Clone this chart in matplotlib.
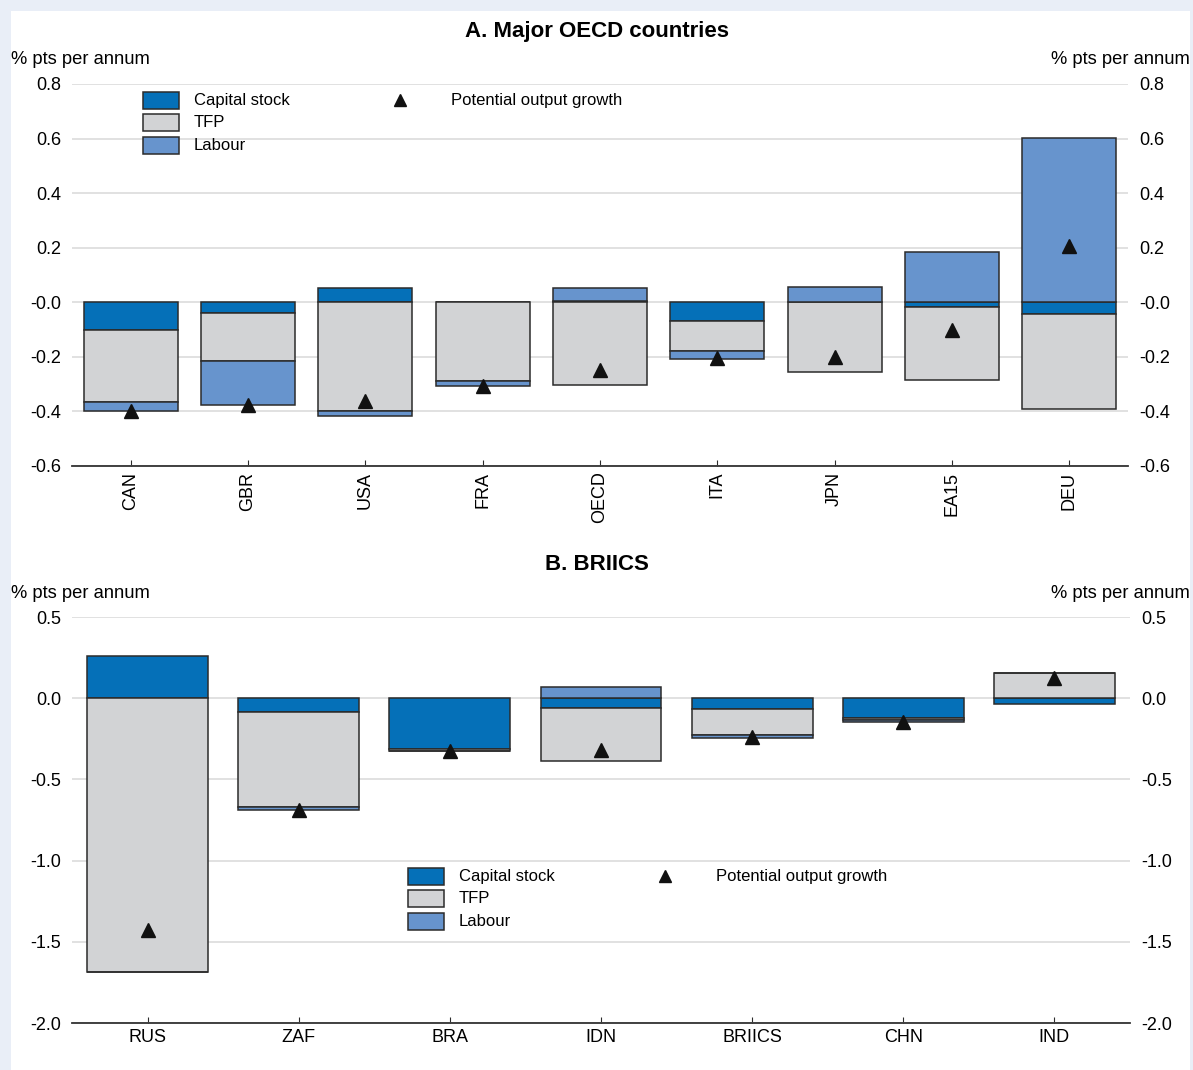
import matplotlib
matplotlib.use("Agg")
import matplotlib.pyplot as plt
import numpy as np
from matplotlib.patches import Rectangle
from matplotlib.lines import Line2D

plt.rcParams['font.family'] = ['Liberation Sans', 'DejaVu Sans']
plt.rcParams['font.size'] = 13

# panel A data
countries_a = ['CAN', 'GBR', 'USA', 'FRA', 'OECD', 'ITA', 'JPN', 'EA15', 'DEU']
capital_a = [-0.100, -0.040, 0.051, 0.0, 0.004, -0.067, 0.0, -0.018, -0.043]
tfp_a = [-0.264, -0.176, -0.397, -0.287, -0.303, -0.111, -0.256, -0.267, -0.349]
labour_a = [-0.035, -0.160, -0.021, -0.021, 0.050, -0.031, 0.055, 0.183, 0.602]
potential_a = [-0.400, -0.376, -0.362, -0.307, -0.248, -0.204, -0.200, -0.100, 0.206]
yticks_a = [-0.6, -0.4, -0.2, 0.0, 0.2, 0.4, 0.6, 0.8]
ylabels_a = ['-0.6', '-0.4', '-0.2', '-0.0', '0.2', '0.4', '0.6', '0.8']

# panel B data
countries_b = ['RUS', 'ZAF', 'BRA', 'IDN', 'BRIICS', 'CHN', 'IND']
capital_b = [0.262, -0.085, -0.311, -0.060, -0.065, -0.120, -0.038]
tfp_b = [-1.686, -0.587, -0.012, -0.328, -0.164, -0.012, 0.157]
labour_b = [-0.003, -0.017, -0.004, 0.072, -0.017, -0.014, 0.0]
potential_b = [-1.427, -0.688, -0.325, -0.319, -0.240, -0.145, 0.124]
yticks_b = [-2.0, -1.5, -1.0, -0.5, 0.0, 0.5]
ylabels_b = ['-2.0', '-1.5', '-1.0', '-0.5', '0.0', '0.5']

series_names = ['Capital stock', 'TFP', 'Labour']
colors = ['#0570b8', '#d2d3d5', '#6794cd']
edge = '#2b2b2b'

W, H = 1193, 1070
fig = plt.figure(figsize=(W / 100, H / 100), dpi=100)
fig.patch.set_facecolor('#e9eef7')
fig.patches.append(Rectangle((11 / W, 0), (1190 - 11) / W, 1 - 11 / H,
                             transform=fig.transFigure, facecolor='white',
                             edgecolor='none', zorder=-5))


def px(x, y):
    return x / W, 1 - y / H


def stacked(ax, cats, series, pot, width, ylim, yticks, ylabels, rotate):
    x = np.arange(len(cats))
    pos = np.zeros(len(cats))
    neg = np.zeros(len(cats))
    for vals, c in zip(series, colors):
        vals = np.array(vals)
        bottom = np.where(vals >= 0, pos, neg)
        ax.bar(x, vals, width, bottom=bottom, color=c, edgecolor=edge,
               linewidth=1.1, zorder=3)
        pos = pos + np.clip(vals, 0, None)
        neg = neg + np.clip(vals, None, 0)
    ax.plot(x, pot, linestyle='none', marker='^', color='#111111',
            markersize=10, zorder=5)
    ax.set_xlim(-0.5, len(cats) - 0.5)
    ax.set_ylim(*ylim)
    ax.set_yticks(yticks)
    ax.set_yticklabels(ylabels)
    ax.yaxis.grid(True, color='#d9d9d9', linewidth=1.1, zorder=0)
    ax.set_axisbelow(True)
    ax.set_xticks(x)
    ax.set_xticklabels(cats, rotation=90 if rotate else 0)
    ax.tick_params(axis='y', length=0, labelleft=True, labelright=True,
                   pad=8, labelsize=13)
    ax.tick_params(axis='x', direction='in', length=4, color=edge,
                   pad=4, labelsize=13)
    for s in ['top', 'left', 'right']:
        ax.spines[s].set_visible(False)
    ax.spines['bottom'].set_color('#333333')
    ax.spines['bottom'].set_linewidth(1.3)
    ax.spines['bottom'].set_zorder(6)
    ax.patch.set_alpha(0)


def legend(x0, y0):
    for i, (name, c) in enumerate(zip(series_names, colors)):
        yc = y0 + i * 22.5
        fx, fy = px(x0, yc + 8.5)
        fig.patches.append(Rectangle((fx, fy), 36 / W, 17 / H,
                                     transform=fig.transFigure, facecolor=c,
                                     edgecolor=edge, linewidth=1.1, zorder=10))
        tx, ty = px(x0 + 51, yc)
        fig.text(tx, ty, name, va='center', ha='left', fontsize=12)
    mx, my = px(x0 + 257, y0)
    fig.lines.append(Line2D([mx], [my], transform=fig.transFigure,
                            marker='^', color='#111111', markersize=9,
                            linestyle='none', zorder=10))
    tx, ty = px(x0 + 308, y0)
    fig.text(tx, ty, 'Potential output growth', va='center', ha='left',
             fontsize=12)


ax1 = fig.add_axes([72 / W, 1 - 466 / H, 1056 / W, 382 / H])
stacked(ax1, countries_a, [capital_a, tfp_a, labour_a], potential_a, 0.8,
        (-0.6, 0.8), yticks_a, ylabels_a, True)

ax2 = fig.add_axes([72 / W, 1 - 1023 / H, 1058 / W, 406 / H])
stacked(ax2, countries_b, [capital_b, tfp_b, labour_b], potential_b, 0.8,
        (-2.0, 0.5), yticks_b, ylabels_b, False)

fig.text(*px(597, 32), 'A. Major OECD countries', ha='center', va='center',
         fontsize=16, fontweight='bold')
fig.text(*px(597, 564), 'B. BRIICS', ha='center', va='center',
         fontsize=16, fontweight='bold')
fig.text(*px(11, 60), '% pts per annum', ha='left', va='center', fontsize=13.2)
fig.text(*px(1190, 60), '% pts per annum', ha='right', va='center', fontsize=13.2)
fig.text(*px(11, 593), '% pts per annum', ha='left', va='center', fontsize=13.2)
fig.text(*px(1190, 593), '% pts per annum', ha='right', va='center', fontsize=13.2)

legend(143, 100)
legend(408, 876)

fig.savefig('out.png', dpi=100, facecolor=fig.get_facecolor())
